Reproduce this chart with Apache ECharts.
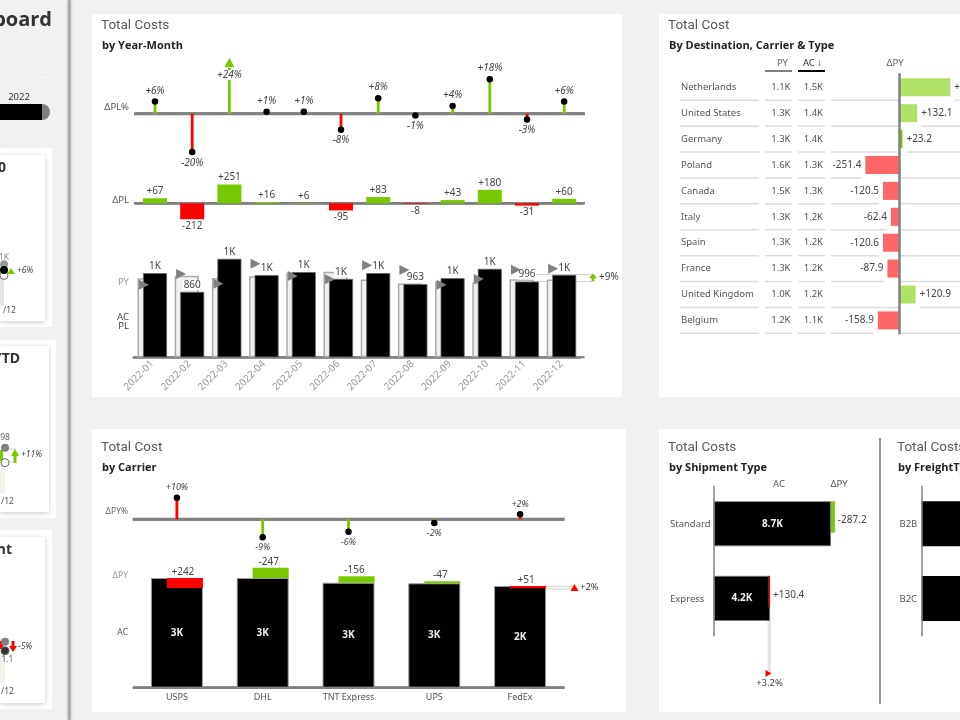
<!DOCTYPE html>
<html>
<head>
<meta charset="utf-8">
<script src="https://cdn.jsdelivr.net/npm/echarts@6/dist/echarts.min.js"></script>
<style>
html,body{margin:0;padding:0;background:#f1f1f1;overflow:hidden}
#main{width:960px;height:720px}
</style>
</head>
<body>
<div id="main"></div>
<script>
// by year-month
var months = ['2022-01','2022-02','2022-03','2022-04','2022-05','2022-06','2022-07','2022-08','2022-09','2022-10','2022-11','2022-12'];
var monthPct = [6.3,-20,24,1,1,-8.4,8,-1,4,18,-3,6.3];
var monthDelta = [67,-212,251,16,6,-95,83,-8,43,180,-31,60];
var monthAC = [1106,860,1295,1080,1120,1030,1107,963,1040,1163,996,1083];
var monthPL = [1039,1072,1044,1064,1114,1125,1024,971,997,983,1027,1023];
var monthMarker = [954,1095,967,1230,1068,1025,1209,1147,954,1029,1151,1164];

// by carrier
var carriers = ['USPS','DHL','TNT Express','UPS','FedEx'];
var carrierPct = [10.3,-8.6,-5.9,-1.8,2.4];
var carrierAC = [2656,2656,2542,2528,2462];
var carrierDelta = [242,-247,-156,-47,51];

// by destination
var countries = ['Netherlands','United States','Germany','Poland','Canada','Italy','Spain','France','United Kingdom','Belgium'];
var countryPY = ['1.1K','1.3K','1.3K','1.6K','1.5K','1.3K','1.3K','1.3K','1.0K','1.2K'];
var countryAC = ['1.5K','1.4K','1.4K','1.3K','1.3K','1.2K','1.2K','1.2K','1.2K','1.1K'];
var countryDelta = [378,132.1,23.2,-251.4,-120.5,-62.4,-120.6,-87.9,120.9,-158.9];

// by shipment type, by freight type
var shipTypes = ['Standard','Express'];
var shipAC = [8700,4180];
var shipDelta = [-287.2,130.4];
var freightTypes = ['B2B','B2C'];
var freightAC = [8000,4900];

// sidebar cards, only the right end of each is in view
var kpiFirst = [1083,98,11.7];
var kpiSecond = [1040,88,11.1];
var kpiThird = [1130];

var GREEN = '#78c800', RED = '#ff0000', LGREEN = '#b0e066', LRED = '#ff6666', AXIS = '#808080';
var FONT = '"Noto Sans","Open Sans",sans-serif';

function signed(v, d){
    var s = d === undefined ? String(Math.round(v)) : v.toFixed(d);
    return (v > 0 ? '+' : '') + s;
}
function shortK(v){
    return v >= 1000 ? Math.round(v / 1000) + 'K' : String(v);
}

var gfx = [];
function box(x, y, w, h, fill, extra){
    gfx.push({type:'rect', z:0, shape:{x:x, y:y, width:w, height:h}, style:Object.assign({fill:fill}, extra || {})});
}
function txt(x, y, s, size, color, extra){
    var o = extra || {};
    gfx.push({type:'text', z:o.z || 6, x:x, y:y, style:{
        text:s, fill:color, align:o.align || 'left', verticalAlign:'middle',
        font:(o.italic ? 'italic ' : '') + (o.bold ? 'bold ' : '') + size + 'px ' + (o.family || FONT)
    }});
}
function segment(x1, y1, x2, y2, color, w){
    gfx.push({type:'line', z:1, shape:{x1:x1, y1:y1, x2:x2, y2:y2}, style:{stroke:color, lineWidth:w}});
}
function tri(points, color){
    gfx.push({type:'polygon', z:6, shape:{points:points}, style:{fill:color}});
}
function heading(x, y, a, b){
    txt(x, y, a, 13.5, '#5a5a5a', {family:'Roboto,sans-serif'});
    txt(x + 1, y + 20, b, 11, '#222', {bold:true, family:'"Open Sans",sans-serif'});
}

// panels
box(92, 14, 530, 383, '#fff');
box(659, 14, 301, 383, '#fff');
box(92, 429, 534, 283, '#fff');
box(659, 429, 301, 283, '#fff');

heading(101, 25.5, 'Total Costs', 'by Year-Month');
heading(668, 25.5, 'Total Cost', 'By Destination, Carrier & Type');
heading(101, 447.5, 'Total Cost', 'by Carrier');
heading(668, 447.5, 'Total Costs', 'by Shipment Type');
heading(897, 447.5, 'Total Costs', 'by FreightType');

// row titles
txt(129, 107, 'ΔPL%', 9.5, '#555', {align:'right'});
txt(129, 200, 'ΔPL', 9.5, '#555', {align:'right'});
txt(129, 282, 'PY', 9.5, '#999', {align:'right'});
txt(129, 317, 'AC', 9.5, '#444', {align:'right'});
txt(129, 326, 'PL', 9.5, '#444', {align:'right'});
txt(128, 512, 'ΔPY%', 8.5, '#666', {align:'right'});
txt(128, 576, 'ΔPY', 8.5, '#999', {align:'right'});
txt(128, 633, 'AC', 8.5, '#555', {align:'right'});

// axis lines run a little past the bands
segment(134, 113.7, 585, 113.7, AXIS, 3);
segment(134, 203.3, 585, 203.3, AXIS, 2.5);
segment(134, 357.3, 584.5, 357.3, AXIS, 2);
segment(132.7, 519.3, 564.7, 519.3, AXIS, 3);
segment(132.7, 687.7, 564.7, 687.7, AXIS, 2.5);

// total variance on the right of the monthly chart
segment(533, 274.5, 594, 274.5, '#d0d0d0', 1);
segment(533, 281.5, 594, 281.5, '#d0d0d0', 1);
tri([[593,273.5],[597,278],[589,278]], GREEN);
box(591.5, 277, 3, 4, GREEN, {});
gfx[gfx.length - 1].z = 6;
txt(599, 277, '+9%', 10, '#444');

// total variance on the right of the carrier chart
segment(546, 586.3, 575, 586.3, '#d0d0d0', 1);
segment(546, 589, 575, 589, '#d0d0d0', 1);
tri([[574.5,584],[578.5,591],[570.5,591]], RED);
txt(580, 587, '+2%', 9.5, '#444');

// table header
txt(788, 63, 'PY', 9.5, '#666', {align:'right'});
txt(822, 63, 'AC ↓', 9.5, '#333', {align:'right'});
txt(895, 63, 'ΔPY', 9.5, '#666', {align:'center'});
segment(765, 71, 792, 71, AXIS, 2);
segment(798, 71, 825, 71, '#000', 2);
countries.forEach(function(c, i){
    var y = 87.3 + 25.9 * i;
    txt(681, y, c, 9.5, '#555');
    txt(790.5, y, countryPY[i], 9.5, '#555', {align:'right'});
    txt(823, y, countryAC[i], 9.5, '#555', {align:'right'});
});

// shipment / freight text
txt(779, 484, 'AC', 9.5, '#555', {align:'center'});
txt(839, 484, 'ΔPY', 9.5, '#555', {align:'center'});
txt(670, 524.5, shipTypes[0], 9.5, '#555');
txt(670, 599, shipTypes[1], 9.5, '#555');
txt(899.5, 524.5, freightTypes[0], 9.5, '#555');
txt(899.5, 599, freightTypes[1], 9.5, '#555');
box(767.5, 621, 3.5, 52, '#e2e2e2');
tri([[765.5,670],[771.5,673.5],[765.5,677]], RED);
txt(769.5, 683.5, '+3.2%', 9.5, '#444', {align:'center'});
segment(880, 438, 880, 704, '#8b98a5', 2);

// sidebar
box(0, 148, 52, 179, '#fff');
box(0, 340, 56, 178, '#fff');
box(0, 530, 52, 179, '#fff');
box(0, 155, 45, 166, '#fff', {shadowBlur:5, shadowColor:'rgba(0,0,0,0.22)', shadowOffsetY:1});
box(0, 346, 49, 166, '#fff', {shadowBlur:5, shadowColor:'rgba(0,0,0,0.22)', shadowOffsetY:1});
box(0, 537, 45, 166, '#fff', {shadowBlur:5, shadowColor:'rgba(0,0,0,0.22)', shadowOffsetY:1});
box(0, 276, 4, 30, '#e4e4e4');
box(0, 463, 5, 30, '#f0f2ea');
box(0, 652, 5, 30, '#f0f2ea');
box(0, 450, 3, 11, GREEN);
box(0, 641, 3, 8, RED);
box(68, 0, 2.5, 720, '#a8a8a8', {shadowBlur:3, shadowColor:'rgba(0,0,0,0.35)'});
txt(52, 20, 'Dashboard', 20, '#333', {bold:true, align:'right', family:'"Open Sans",sans-serif'});
txt(19, 97, '2022', 9.5, '#333', {align:'center'});
box(38, 77, 6, 1, '#fff');
gfx.push({type:'rect', z:1, shape:{x:0, y:104, width:50, height:16, r:[0,8,8,0]}, style:{fill:'#808080'}});
gfx.push({type:'rect', z:2, shape:{x:0, y:104, width:42, height:16}, style:{fill:'#000'}});
txt(-2, 168, '0', 14, '#333', {bold:true});
txt(20, 359, 'YTD', 14, '#333', {bold:true, align:'right'});
txt(12, 550, 'nt', 14, '#333', {bold:true, align:'right'});
txt(4, 258, '1K', 8.5, '#888', {align:'center'});
txt(5, 438, '98', 8.5, '#666', {align:'center'});
txt(5, 660, '11.1', 8.5, '#666', {align:'center'});
txt(3, 311, '/12', 8.5, '#555');
txt(1, 502, '/12', 8.5, '#555');
txt(1, 692, '/12', 8.5, '#555');
tri([[11,268],[15,274],[7,274]], GREEN);
txt(17, 271, '+6%', 8.5, '#444', {italic:true});
segment(5, 449, 16, 449, '#ccc', 1);
segment(5, 462, 16, 462, '#ccc', 1);
tri([[15,449],[19,456],[11,456]], GREEN);
box(13.5, 455, 3, 8, GREEN); gfx[gfx.length - 1].z = 6;
txt(21, 455, '+11%', 8.5, '#444', {italic:true});
tri([[13,652],[17,646],[9,646]], RED);
box(11.5, 641, 3, 6, RED); gfx[gfx.length - 1].z = 6;
txt(18, 647, '-5%', 8.5, '#444', {italic:true});

// grids, y and px scales
var grid = [
    {left:136.4, top:56.1, width:446.4, height:115.2},
    {left:136.4, top:180.8, width:446.4, height:45},
    {left:133.65, top:250.8, width:446.4, height:106.5},
    {left:134, top:477.3, width:429, height:84},
    {left:134, top:563.8, width:429, height:123.9},
    {left:831.8, top:74.35, width:135, height:259},
    {left:713.7, top:486.4, width:134.8, height:149.3},
    {left:921.7, top:486.4, width:134.8, height:149.3},
    {left:-46, top:231, width:100, height:74},
    {left:-45, top:444.7, width:100, height:30},
    {left:-45, top:637.2, width:100, height:15}
].map(function(g){ return Object.assign(g, {outerBoundsMode:'none'}); });

function baseX(idx, cats){
    return {type:'category', gridIndex:idx, data:cats, z:1,
        axisLine:{show:true, lineStyle:{color:AXIS, width:2.5}},
        axisTick:{show:false}, axisLabel:{show:false}};
}
function hiddenY(idx, min, max){
    return {type:'value', gridIndex:idx, min:min, max:max, show:false};
}
function hiddenCat(idx){
    return {type:'category', gridIndex:idx, data:['12'], show:false};
}

var xAxis = [
    baseX(0, months),
    baseX(1, months),
    Object.assign(baseX(2, months), {axisLabel:{show:true, interval:0, rotate:45, margin:5, fontSize:10, color:'#999'}}),
    baseX(3, carriers),
    Object.assign(baseX(4, carriers), {axisLabel:{show:true, interval:0, margin:5, fontSize:9, color:'#555'}}),
    {type:'value', gridIndex:5, min:-500, max:500, show:false},
    {type:'value', gridIndex:6, min:0, max:10000, show:false},
    {type:'value', gridIndex:7, min:0, max:10000, show:false},
    hiddenCat(8), hiddenCat(9), hiddenCat(10)
];
function catY(idx, cats, w){
    return {type:'category', gridIndex:idx, data:cats, inverse:true, z:5,
        axisLine:{show:true, onZero:true, lineStyle:{color:AXIS, width:w}},
        axisTick:{show:false}, axisLabel:{show:false}};
}
var yAxis = [
    hiddenY(0, -30, 30),
    hiddenY(1, -300, 300),
    hiddenY(2, 0, 1400),
    hiddenY(3, -20, 20),
    hiddenY(4, 0, 3000),
    catY(5, countries, 2.5),
    catY(6, shipTypes, 1.5),
    catY(7, freightTypes, 1.5),
    hiddenY(8, 800, 1400),
    hiddenY(9, 80, 100),
    hiddenY(10, 11, 12)
];

function lollipop(idx, values, upColor, downColor, size, labelSize){
    return [
        {type:'bar', xAxisIndex:idx, yAxisIndex:idx, barWidth:2.8, z:2,
            data:values.map(function(v){
                return {value:v, itemStyle:{color:v >= 0 ? upColor : downColor}};
            })},
        {type:'scatter', xAxisIndex:idx, yAxisIndex:idx, symbolSize:size, z:3,
            itemStyle:{color:'#000', opacity:1},
            label:{show:true, fontSize:labelSize, fontStyle:'italic', color:'#444', distance:2.5},
            data:values.map(function(v){
                return {value:v, label:{position:v >= 0 ? 'top' : 'bottom', formatter:signed(v) + '%'}};
            })}
    ];
}

var series = [];
series = series.concat(lollipop(0, monthPct, GREEN, RED, 6.5, 10));
// the +24% stem runs off the scale, so it ends in a triangle
var outlier = series[1].data[2];
outlier.symbol = 'triangle';
outlier.symbolSize = [10,9];
outlier.symbolOffset = [0,-5];
outlier.itemStyle = {color:GREEN, opacity:1};
outlier.label = {position:'bottom', distance:3, backgroundColor:'#fff', formatter:'+24%'};

series.push({type:'bar', xAxisIndex:1, yAxisIndex:1, barWidth:24, z:2,
    label:{show:true, fontSize:10, color:'#444', distance:2},
    data:monthDelta.map(function(v){
        return {value:v, itemStyle:{color:v >= 0 ? GREEN : RED},
            label:{position:v >= 0 ? 'top' : 'bottom', formatter:signed(v)}};
    })});

series.push({type:'bar', xAxisIndex:2, yAxisIndex:2, barWidth:24, barGap:'-77%', data:monthPL,
    itemStyle:{color:'#f0f0f0', borderColor:'#aaa', borderWidth:1.5}});
series.push({type:'bar', xAxisIndex:2, yAxisIndex:2, barWidth:24, data:monthAC,
    itemStyle:{color:'#000', borderColor:'#666', borderWidth:0.8},
    label:{show:true, position:'top', distance:2, fontSize:10, color:'#444', backgroundColor:'#fff', padding:[0,1],
        formatter:function(p){ return shortK(p.value); }}});
series.push({type:'scatter', xAxisIndex:2, yAxisIndex:2, z:4, data:monthMarker, symbol:'triangle', symbolSize:10,
    symbolRotate:-90, symbolOffset:[-8.3,0], itemStyle:{color:AXIS, opacity:1}});

series = series.concat(lollipop(3, carrierPct, RED, GREEN, 6.5, 9));

series.push({type:'bar', xAxisIndex:4, yAxisIndex:4, barWidth:52, data:carrierAC,
    itemStyle:{color:'#000', borderColor:'#999', borderWidth:1},
    label:{show:true, position:'inside', fontSize:10, fontWeight:'bold', color:'#eee',
        formatter:function(p){ return shortK(p.value); }}});
series.push({type:'custom', xAxisIndex:4, yAxisIndex:4, z:3,
    data:carrierDelta.map(function(d, i){
        return [i, Math.min(carrierAC[i], carrierAC[i] - d), Math.max(carrierAC[i], carrierAC[i] - d), d];
    }),
    renderItem:function(params, api){
        var d = api.value(3);
        var top = api.coord([api.value(0), api.value(2)]);
        var low = api.coord([api.value(0), api.value(1)]);
        return {type:'group', children:[
            {type:'rect', shape:{x:top[0] - 10, y:top[1], width:36, height:low[1] - top[1]},
                style:{fill:d >= 0 ? RED : GREEN}},
            {type:'text', x:top[0] + 6, y:top[1] - 1,
                style:{text:signed(d), fill:'#444', align:'center', verticalAlign:'bottom', font:'10px ' + FONT}}
        ]};
    }});

// row rules stop short of the delta bar
series.push({type:'custom', xAxisIndex:5, yAxisIndex:5, z:1,
    data:countryDelta.map(function(d, i){ return [d, i]; }),
    renderItem:function(params, api){
        var end = api.coord([api.value(0), api.value(1)]);
        var zero = api.coord([0, api.value(1)]);
        var y = end[1] + api.size([0,1])[1] / 2;
        var parts = [[680,759],[765,792],[798,825]];
        if(api.value(0) > 0){
            parts.push([831, zero[0]], [end[0] + 4, 960]);
        } else {
            parts.push([831, end[0] - 4], [zero[0], 960]);
        }
        return {type:'group', children:parts.map(function(p){
            return {type:'line', shape:{x1:p[0], y1:y, x2:p[1], y2:y}, style:{stroke:'#dcdcdc', lineWidth:1.5}};
        })};
    }});
series.push({type:'bar', xAxisIndex:5, yAxisIndex:5, barWidth:18, z:2,
    label:{show:true, fontSize:10, color:'#444', distance:4},
    data:countryDelta.map(function(d, i){
        return {value:d, itemStyle:{color:i === 2 ? GREEN : (d >= 0 ? LGREEN : LRED)},
            label:{position:d >= 0 ? 'right' : 'left', formatter:signed(d, 1)}};
    })});

series.push({type:'bar', xAxisIndex:6, yAxisIndex:6, barWidth:45, data:shipAC,
    itemStyle:{color:'#000', borderColor:'#777', borderWidth:0.8},
    label:{show:true, position:'inside', fontSize:10, fontWeight:'bold', color:'#eee',
        formatter:function(p){ return (p.value / 1000).toFixed(1) + 'K'; }}});
series.push({type:'custom', xAxisIndex:6, yAxisIndex:6, z:3,
    data:shipDelta.map(function(d, i){
        return [Math.min(shipAC[i], shipAC[i] - d), Math.max(shipAC[i], shipAC[i] - d), i, d];
    }),
    renderItem:function(params, api){
        var d = api.value(3);
        var lo = api.coord([api.value(0), api.value(2)]);
        var hi = api.coord([api.value(1), api.value(2)]);
        var top = lo[1] - 22.5;
        return {type:'group', children:[
            {type:'rect', shape:{x:lo[0], y:top, width:hi[0] - lo[0], height:31.4}, style:{fill:d >= 0 ? '#d01010' : GREEN}},
            {type:'text', x:hi[0] + 3, y:top + 19.4,
                style:{text:signed(d, 1), fill:'#444', align:'left', verticalAlign:'middle', font:'10px ' + FONT}}
        ]};
    }});
series.push({type:'bar', xAxisIndex:7, yAxisIndex:7, barWidth:45, data:freightAC,
    itemStyle:{color:'#000'}});

// sidebar dots
function kpiDots(i, first, second, firstColor){
    series.push({type:'scatter', xAxisIndex:8 + i, yAxisIndex:8 + i, z:4, symbolSize:8,
        data:[second], itemStyle:{color:firstColor === '#000' ? '#fff' : '#333', borderColor:'#666', borderWidth:1, opacity:1}});
    series.push({type:'scatter', xAxisIndex:8 + i, yAxisIndex:8 + i, z:5, symbolSize:8,
        data:[first], itemStyle:{color:firstColor, opacity:1}});
}
series.push({type:'scatter', xAxisIndex:8, yAxisIndex:8, z:3, symbolSize:8, data:kpiThird, itemStyle:{color:'#999', opacity:1}});
kpiDots(0, kpiFirst[0], kpiSecond[0], '#000');
kpiDots(1, kpiFirst[1], kpiSecond[1], '#808080');
series[series.length - 2].itemStyle = {color:'#fff', borderColor:'#666', borderWidth:1, opacity:1};
kpiDots(2, kpiFirst[2], kpiSecond[2], '#808080');

var myChart = echarts.init(document.getElementById('main'), null, {renderer:'canvas'});
myChart.setOption({
    animation:false,
    backgroundColor:'#f1f1f1',
    textStyle:{fontFamily:FONT},
    graphic:{elements:gfx},
    grid:grid,
    xAxis:xAxis,
    yAxis:yAxis,
    series:series
});
</script>
</body>
</html>
